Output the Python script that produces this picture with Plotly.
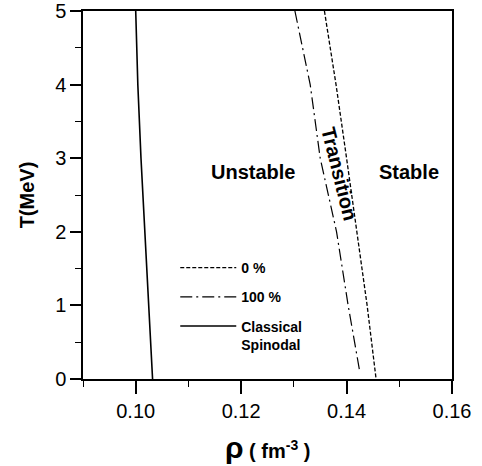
import plotly.graph_objects as go

# Temperatures (MeV) at which curves were read
T_vals = [5, 4, 3, 2, 1, 0]
# Classical spinodal density (fm^-3)
rho_classical = [0.1000, 0.1004, 0.1010, 0.1017, 0.1024, 0.1032]
# 0 % curve
rho_0pct = [0.1358, 0.1380, 0.1400, 0.1420, 0.1439, 0.1456]
# 100 % curve (ends slightly above T=0)
T_100 = [5, 4, 3, 2, 1, 0.1]
rho_100pct = [0.1302, 0.1331, 0.1350, 0.1381, 0.1403, 0.1425]

x_ticks = [0.10, 0.12, 0.14, 0.16]
x_ticktext = ["0.10", "0.12", "0.14", "0.16"]
y_ticks = [0, 1, 2, 3, 4, 5]

FONT = "Liberation Sans, Arial, Helvetica, sans-serif"

fig = go.Figure()
fig.add_trace(go.Scatter(x=rho_0pct, y=T_vals, mode="lines", name="0 %",
                         legendgroup="a",
                         line=dict(color="black", width=1.3, dash="4px,2px")))
fig.add_trace(go.Scatter(x=rho_100pct, y=T_100, mode="lines", name="100 %",
                         legendgroup="b",
                         line=dict(color="black", width=1.2, dash="12px,4px,2px,4px")))
fig.add_trace(go.Scatter(x=rho_classical, y=T_vals, mode="lines",
                         name="Classical<br>Spinodal", legendgroup="c",
                         line=dict(color="black", width=1.6)))

ann_font = dict(family=FONT, size=20, color="black", weight="bold")
fig.add_annotation(x=0.1223, y=2.81, text="Unstable", showarrow=False, font=ann_font)
fig.add_annotation(x=0.1519, y=2.81, text="Stable", showarrow=False, font=ann_font)
fig.add_annotation(x=0.1386, y=2.78, text="Transition", showarrow=False,
                   textangle=76, font=ann_font)
# x-axis title
fig.add_annotation(xref="paper", yref="paper", x=0.5, y=-0.186,
                   xanchor="center", yanchor="middle", showarrow=False,
                   text='<span style="font-size:30px">ρ</span> ( fm<sup>-3</sup> )',
                   font=dict(family=FONT, size=20, color="black", weight="bold"))

fig.update_layout(
    width=482, height=466,
    margin=dict(l=83, r=30, t=11, b=87, autoexpand=False),
    paper_bgcolor="white", plot_bgcolor="white",
    font=dict(family=FONT, color="black"),
    showlegend=True,
    legend=dict(x=0.25, y=0.345, xanchor="left", yanchor="top", valign="top",
                bgcolor="rgba(0,0,0,0)", tracegroupgap=8, itemwidth=56,
                font=dict(family=FONT, size=14, color="black", weight="bold")),
    xaxis=dict(range=[0.09, 0.16], tickvals=x_ticks, ticktext=x_ticktext,
               automargin=False,
               ticks="outside", ticklen=13, tickwidth=1.5, tickcolor="black",
               showline=True, linecolor="black", linewidth=1.5, mirror=True,
               showgrid=False, zeroline=False, ticklabeloverflow="allow",
               tickfont=dict(family=FONT, size=20, color="black"),
               minor=dict(dtick=0.01, tick0=0.09, ticks="outside", ticklen=6,
                          tickwidth=1.2, tickcolor="black", showgrid=False)),
    yaxis=dict(range=[0, 5], tickvals=y_ticks,
               automargin=False,
               ticks="outside", ticklen=11, tickwidth=1.5, tickcolor="black",
               showline=True, linecolor="black", linewidth=1.5, mirror=True,
               showgrid=False, zeroline=False, ticklabeloverflow="allow",
               tickfont=dict(family=FONT, size=20, color="black"),
               minor=dict(dtick=0.5, ticks="outside", ticklen=6,
                          tickwidth=1.2, tickcolor="black", showgrid=False),
               title=dict(text="T(MeV)",
                          font=dict(family=FONT, size=20, color="black", weight="bold"))),
)

fig.write_html("out.html",
               config={"displayModeBar": False},
               post_script="document.body.style.margin='0';document.body.style.overflow='hidden';")
